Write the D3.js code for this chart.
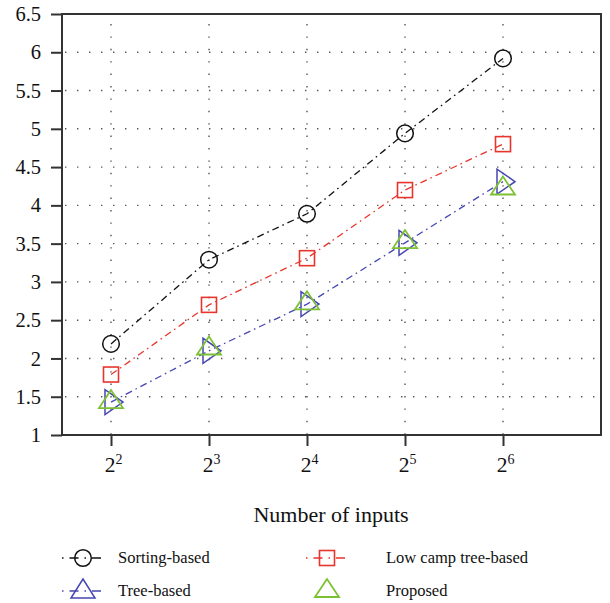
<!DOCTYPE html>
<html><head><meta charset="utf-8">
<script src="https://cdn.jsdelivr.net/npm/d3@7"></script>
<style>body{margin:0;background:#fff}svg{display:block}svg text{font-family:"Liberation Serif","Times New Roman",serif !important;fill:#111}</style>
</head><body>
<svg id="c" width="610" height="603"></svg>
<script>
const exponents = [2, 3, 4, 5, 6];
const yTicks = [1, 1.5, 2, 2.5, 3, 3.5, 4, 4.5, 5, 5.5, 6, 6.5];
const sortingBased = [2.19, 3.29, 3.89, 4.94, 5.92];
const lowCampTreeBased = [1.79, 2.70, 3.31, 4.20, 4.80];
const treeBased = [1.43, 2.10, 2.71, 3.51, 4.31];
const proposed = [1.43, 2.13, 2.72, 3.52, 4.22];
const seriesNames = ["Sorting-based", "Low camp tree-based", "Tree-based", "Proposed"];
const xTitle = "Number of inputs";

const svg = d3.select("#c");
const L = 62, R = 601, T = 14, B = 435;
const x = d3.scaleLinear().domain([1.5, 7]).range([L, R]);
const y = d3.scaleLinear().domain([1, 6.5]).range([B, T]);

// grid
const g = svg.append("g");
g.selectAll(".hg").data(yTicks.filter(v => v > 1 && v < 6.5)).join("line")
  .attr("x1", L + 3).attr("x2", R).attr("y1", d => y(d)).attr("y2", d => y(d))
  .attr("stroke", "#555").attr("stroke-width", 1.4).attr("stroke-dasharray", "1.4,10.6");
g.selectAll(".vg").data(exponents).join("line")
  .attr("x1", d => x(d)).attr("x2", d => x(d)).attr("y1", T + 10).attr("y2", B)
  .attr("stroke", "#555").attr("stroke-width", 1.4).attr("stroke-dasharray", "1.4,11");

// axes
const yAxis = d3.axisLeft(y).tickValues(yTicks).tickFormat(d => d3.format("")(d)).tickSize(11).tickPadding(10);
const ya = svg.append("g").attr("transform", `translate(${L},0)`).call(yAxis)
  .attr("font-family", null).attr("font-size", null);
ya.select(".domain").remove();
ya.selectAll(".tick line").attr("stroke", "#333").attr("stroke-width", 2);
ya.selectAll(".tick text").style("font-size", "20.5px").attr("fill", "#111");

const xAxis = d3.axisBottom(x).tickValues(exponents).tickSize(11).tickFormat("");
const xa = svg.append("g").attr("transform", `translate(0,${B})`).call(xAxis)
  .attr("font-family", null).attr("font-size", null);
xa.select(".domain").remove();
xa.selectAll(".tick line").attr("stroke", "#333").attr("stroke-width", 2);
xa.selectAll(".tick").each(function(d) {
  const t = d3.select(this).append("text").attr("x", 2).attr("y", 37).attr("text-anchor", "middle")
    .style("font-size", "21.5px").attr("fill", "#111");
  t.append("tspan").text("2");
  t.append("tspan").attr("dy", -8.5).style("font-size", "14px").text(String(d));
});

// frame
svg.append("rect").attr("x", L).attr("y", T).attr("width", R - L).attr("height", B - T)
  .attr("fill", "none").attr("stroke", "#333").attr("stroke-width", 2);

const colors = ["#111", "#e8352c", "#4747b3", "#7cc132"];
const dash = "7,4,1.6,4";
const data = [sortingBased, lowCampTreeBased, treeBased, proposed];

const line = d3.line().x((d, i) => x(exponents[i])).y(d => y(d));
[0, 1, 2].forEach(k => {
  svg.append("path").datum(data[k]).attr("d", line).attr("fill", "none")
    .attr("stroke", colors[k]).attr("stroke-width", 1.3).attr("stroke-dasharray", dash);
});

function marker(sel, k, cx, cy, legend) {
  const c = colors[k];
  if (k === 0) sel.append("circle").attr("cx", cx).attr("cy", cy).attr("r", 8.3)
    .attr("fill", "none").attr("stroke", c).attr("stroke-width", 1.5);
  if (k === 1) sel.append("rect").attr("x", cx - 7.5).attr("y", cy - 7.5).attr("width", 15).attr("height", 15)
    .attr("fill", "none").attr("stroke", c).attr("stroke-width", 1.6);
  if (k === 2) {
    const pts = legend ? [[0, -12], [-12, 7], [12, 7]] : [[-6, -12.5], [-6, 12.5], [12, 0]];
    sel.append("polygon").attr("points", pts.map(p => [cx + p[0], cy + p[1]].join(",")).join(" "))
      .attr("fill", "none").attr("stroke", c).attr("stroke-width", 1.5);
  }
  if (k === 3) {
    const pts = [[0, -12], [-12, 6], [12, 6]];
    sel.append("polygon").attr("points", pts.map(p => [cx + p[0], cy + p[1]].join(",")).join(" "))
      .attr("fill", "none").attr("stroke", c).attr("stroke-width", 1.8);
  }
}
[0, 1, 2, 3].forEach(k => {
  const gm = svg.append("g");
  data[k].forEach((v, i) => marker(gm, k, x(exponents[i]), y(v), false));
});

svg.append("text").attr("x", 331).attr("y", 522).attr("text-anchor", "middle")
  .style("font-size", "22px").text(xTitle);

// legend
const legPos = [[83, 558], [327, 558], [83, 591], [327, 591]];
const textX = [118, 386, 118, 386];
legPos.forEach((p, k) => {
  const lg = svg.append("g");
  if (k < 3) lg.append("line").attr("x1", p[0] - 21).attr("x2", p[0] + 21).attr("y1", p[1]).attr("y2", p[1])
    .attr("stroke", colors[k]).attr("stroke-width", 1.3).attr("stroke-dasharray", "1.5,6,9,6");
  marker(lg, k, p[0], p[1], true);
  lg.append("text").attr("x", textX[k]).attr("y", p[1] + 5).style("font-size", "16.5px").text(seriesNames[k]);
});
</script>
</body></html>
